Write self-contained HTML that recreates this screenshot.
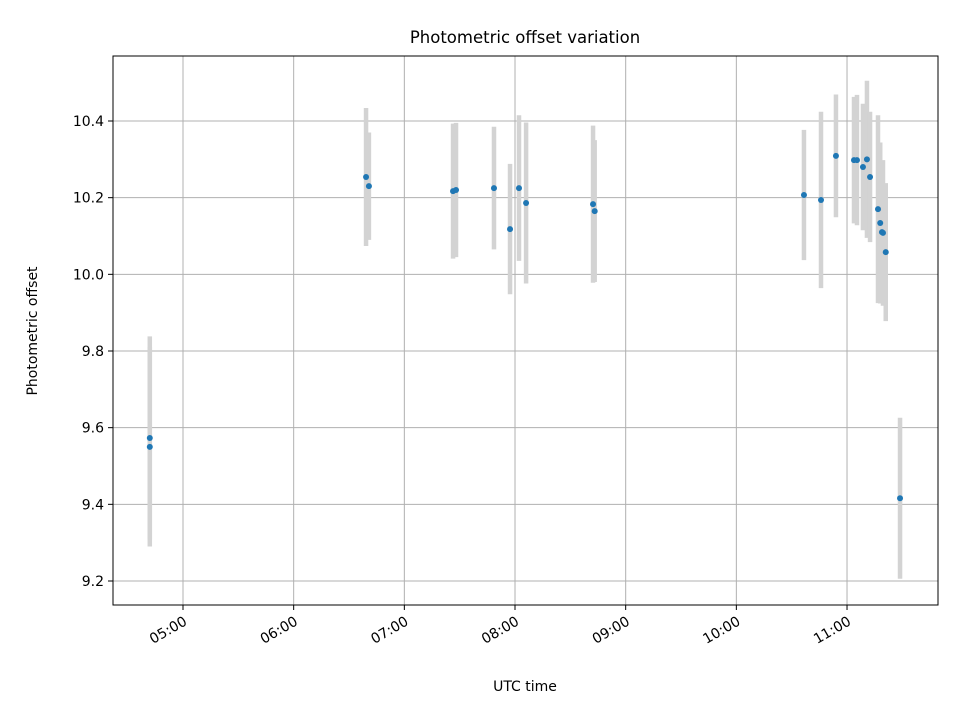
<!DOCTYPE html>
<html><head><meta charset="utf-8">
<style>body{margin:0;background:#fff}svg{display:block;font-family:"DejaVu Sans","Liberation Sans",sans-serif}</style>
</head><body>
<svg id="chart" width="960" height="720" viewBox="0 0 960 720" xmlns="http://www.w3.org/2000/svg">
<rect width="960" height="720" fill="#fff"/>
<g id="grid"></g>
<g id="errs"></g>
<g id="pts"></g>
<rect x="113" y="56" width="825" height="549" fill="none" stroke="#000" stroke-width="1"/>
<g id="axes"></g>
<text x="525" y="43" text-anchor="middle" font-size="16.5">Photometric offset variation</text>
<text x="525" y="691" text-anchor="middle" font-size="14">UTC time</text>
<text transform="translate(37,331) rotate(-90)" text-anchor="middle" font-size="14">Photometric offset</text>
</svg>
<script>
const times=[4.70,4.70,6.654,6.68,7.44,7.467,7.81,7.955,8.036,8.10,8.705,8.72,10.611,10.765,10.90,11.063,11.09,11.144,11.18,11.208,11.28,11.30,11.316,11.325,11.35,11.479];
const offsets=[9.573,9.55,10.254,10.23,10.217,10.22,10.225,10.118,10.225,10.186,10.183,10.165,10.207,10.194,10.309,10.298,10.298,10.28,10.30,10.254,10.17,10.134,10.11,10.108,10.058,9.416];
const errors=[0.265,0.26,0.18,0.14,0.176,0.175,0.16,0.17,0.19,0.21,0.205,0.185,0.17,0.23,0.16,0.165,0.17,0.165,0.205,0.17,0.245,0.21,0.18,0.19,0.18,0.21];
const yTicks=[9.2,9.4,9.6,9.8,10.0,10.2,10.4];
const xTicks=[5,6,7,8,9,10,11];
const xTickLabels=["05:00","06:00","07:00","08:00","09:00","10:00","11:00"];
const NS="http://www.w3.org/2000/svg";
function X(h){return 183+(h-5)*110.67;}
function Y(v){return 121+(10.4-v)*383.33;}
function mk(tag,attrs,parent){const e=document.createElementNS(NS,tag);for(const k in attrs)e.setAttribute(k,attrs[k]);document.getElementById(parent).appendChild(e);return e;}
yTicks.forEach(v=>{
  const g=mk('line',{x1:113,x2:938,y1:Y(v),y2:Y(v),stroke:'#b0b0b0','stroke-width':1},'grid');
  
  
  const t=mk('line',{x1:108,x2:113,y1:Y(v),y2:Y(v),stroke:'#000'},'axes');
  
  
  const l=mk('text',{x:104,y:Y(v)+5,'text-anchor':'end','font-size':'14'},'axes');
  l.textContent=v.toFixed(1);
  
  
});
xTicks.forEach((h,i)=>{
  const g=mk('line',{x1:X(h),x2:X(h),y1:56,y2:605,stroke:'#b0b0b0','stroke-width':1},'grid');
  
  
  const t=mk('line',{x1:X(h),x2:X(h),y1:605,y2:610,stroke:'#000'},'axes');
  
  
  const l=mk('text',{x:0,y:0,'text-anchor':'end','font-size':'14',transform:`translate(${X(h)+5},${624}) rotate(-30)`},'axes');
  l.textContent=xTickLabels[i];
  
  
});
times.forEach((h,i)=>{
  const e=mk('line',{x1:X(h),x2:X(h),y1:Y(offsets[i]+errors[i]),y2:Y(offsets[i]-errors[i]),stroke:'#d3d3d3','stroke-width':4.5},'errs');
  
  
});
times.forEach((h,i)=>{
  const p=mk('circle',{cx:X(h),cy:Y(offsets[i]),r:3,fill:'#1f77b4'},'pts');
  
  
});
</script>
</body></html>
